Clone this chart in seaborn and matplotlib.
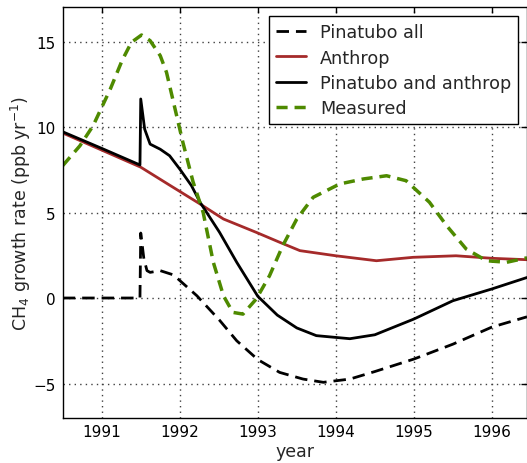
import matplotlib
matplotlib.use("Agg")
import matplotlib.pyplot as plt
import seaborn as sns
import pandas as pd

# Pinatubo all (black dashed)
pin_x = [1990.5, 1991.49, 1991.5, 1991.54, 1991.58, 1991.62, 1991.75, 1991.92, 1992.22,
         1992.51, 1992.73, 1993.0, 1993.28, 1993.58, 1993.84, 1994.18, 1994.5, 1995.0,
         1995.5, 1996.0, 1996.45]
pin_y = [0.0, 0.0, 3.8, 2.3, 1.6, 1.5, 1.6, 1.35, 0.13,
         -1.3, -2.5, -3.6, -4.35, -4.74, -4.93, -4.74, -4.3, -3.57,
         -2.7, -1.7, -1.1]

# Anthrop (red)
ant_x = [1990.5, 1991.0, 1991.5, 1991.87, 1992.26, 1992.56, 1992.98, 1993.28, 1993.54,
         1994.0, 1994.52, 1994.99, 1995.54, 1996.01, 1996.45]
ant_y = [9.65, 8.65, 7.65, 6.6, 5.5, 4.62, 3.84, 3.26, 2.77,
         2.47, 2.18, 2.38, 2.47, 2.32, 2.24]

# Pinatubo and anthrop (black solid)
both_x = [1990.5, 1991.0, 1991.49, 1991.5, 1991.55, 1991.62, 1991.75, 1991.87, 1992.0,
          1992.15, 1992.26, 1992.51, 1992.73, 1993.0, 1993.25, 1993.5, 1993.75, 1994.18,
          1994.5, 1995.0, 1995.5, 1996.0, 1996.45]
both_y = [9.72, 8.75, 7.78, 11.64, 9.88, 9.0, 8.7, 8.32, 7.54,
          6.57, 5.6, 3.84, 2.09, 0.1, -1.0, -1.75, -2.2, -2.38,
          -2.15, -1.23, -0.16, 0.53, 1.2]

# Measured (green dashed)
meas_x = [1990.5, 1990.72, 1990.89, 1991.11, 1991.26, 1991.38, 1991.51, 1991.62, 1991.75,
          1991.83, 1991.92, 1992.04, 1992.17, 1992.3, 1992.43, 1992.56, 1992.68, 1992.81,
          1992.98, 1993.15, 1993.32, 1993.5, 1993.71, 1994.05, 1994.35, 1994.65, 1994.9,
          1995.2, 1995.42, 1995.67, 1995.93, 1996.19, 1996.45]
meas_y = [7.74, 8.9, 10.08, 12.22, 13.88, 14.95, 15.38, 15.05, 14.17,
          13.2, 11.44, 9.1, 6.8, 5.0, 2.09, 0.13, -0.84, -0.94,
          -0.06, 1.3, 3.06, 4.62, 5.89, 6.67, 6.96, 7.15, 6.86,
          5.6, 4.23, 2.87, 2.18, 2.09, 2.35]

labels = ["Pinatubo all", "Anthrop", "Pinatubo and anthrop", "Measured"]
xticks = [1991, 1992, 1993, 1994, 1995, 1996]
yticks = [-5, 0, 5, 10, 15]

sns.set_style("white")
plt.rcParams['font.family'] = ['DejaVu Sans']
plt.rcParams['mathtext.fontset'] = 'dejavusans'

fig = plt.figure(figsize=(5.27, 4.64), dpi=100)
ax = fig.add_axes([0.119, 0.0976, 0.881, 0.8845])

def frame(x, y, label):
    return pd.DataFrame({"x": x, "y": y, "label": label})

sns.lineplot(data=frame(pin_x, pin_y, labels[0]), x="x", y="y", ax=ax, color="black",
             lw=2, label=labels[0], sort=False, estimator=None)
ax.lines[-1].set_dashes((4.5, 2.5))
sns.lineplot(data=frame(ant_x, ant_y, labels[1]), x="x", y="y", ax=ax, color="#a52a2a",
             lw=2, label=labels[1], sort=False, estimator=None)
sns.lineplot(data=frame(both_x, both_y, labels[2]), x="x", y="y", ax=ax, color="black",
             lw=2, label=labels[2], sort=False, estimator=None)
sns.lineplot(data=frame(meas_x, meas_y, labels[3]), x="x", y="y", ax=ax, color="#4e8a00",
             lw=2.5, label=labels[3], sort=False, estimator=None)
ax.lines[-1].set_dashes((3.2, 2.0))

ax.set_xlim(1990.5, 1996.45)
ax.set_ylim(-7, 17)
ax.set_xticks(xticks)
ax.set_xticklabels([str(t) for t in xticks])
ax.set_yticks(yticks)
ax.set_yticklabels(["\u22125", "0", "5", "10", "15"])
ax.grid(True, linestyle=(0, (1, 3)), color="0.25", lw=1)
for s in ax.spines.values():
    s.set_visible(True)
    s.set_color("black")
    s.set_linewidth(1)
ax.tick_params(direction="in", length=4, width=1, top=True, right=True, labelsize=11,
               colors="black")
ax.tick_params(axis="x", pad=4.5)
ax.tick_params(axis="y", pad=5)
ax.set_xlabel("year", fontsize=12.5, labelpad=2)
ax.set_ylabel("CH$_4$ growth rate (ppb yr$^{-1}$)", fontsize=12.5, labelpad=0)

handles, labs = ax.get_legend_handles_labels()
leg = ax.legend(handles, labs, loc="upper right", fontsize=12.7, frameon=True, fancybox=False,
                edgecolor="black", framealpha=1, handlelength=1.7, borderpad=0.4,
                labelspacing=0.42)
leg.get_frame().set_linewidth(1)

fig.savefig("out.png", dpi=100)
